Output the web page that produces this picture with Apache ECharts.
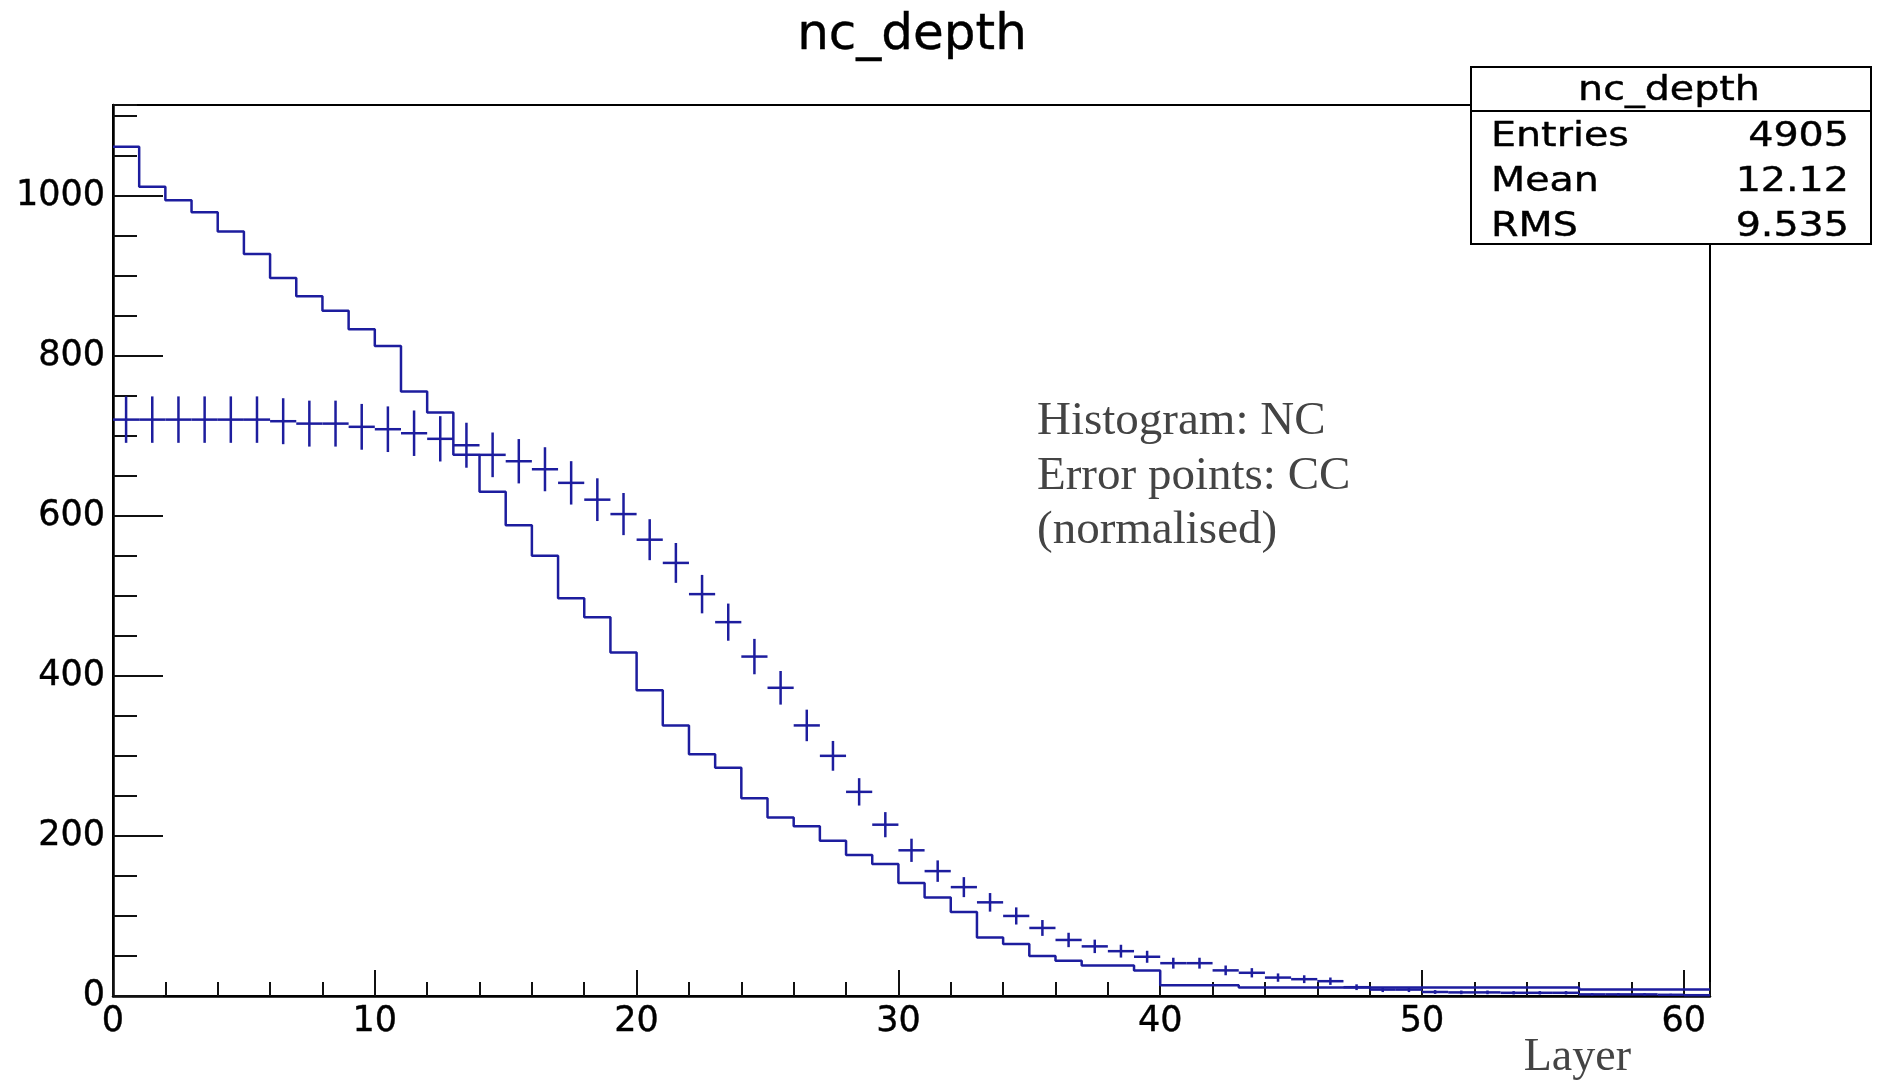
<!DOCTYPE html>
<html>
<head>
<meta charset="utf-8">
<title>nc_depth</title>
<script src="https://cdn.jsdelivr.net/npm/echarts@6/dist/echarts.min.js"></script>
<style>
    html, body { margin: 0; padding: 0; background: #fff; }
    #main { width: 1879px; height: 1082px; }
</style>
</head>
<body>
<div id="main"></div>
<script>
// NC histogram contents, one per layer bin (bin i covers [i, i+1])
var ncCounts = [1061, 1011, 994, 979, 955, 927, 897, 874, 856, 833,
    812, 755, 729, 676, 630, 588, 550, 497, 473, 429,
    382, 338, 302, 285, 247, 223, 212, 194, 176, 165,
    141, 123, 105, 73, 65, 50, 44, 38, 38, 32,
    13.5, 13.5, 13.5, 10.5, 10.5, 10.5, 10.5, 10.5, 10.5, 10.5,
    10.5, 10.5, 10.5, 10.5, 10.5, 10.5, 8, 8, 8, 8, 8];

// CC error points (normalised) and their errors
var ccValues = [720, 720, 720, 720, 720, 720, 718, 715, 715, 711,
    708, 703, 696, 688, 676, 668, 658, 641, 620, 602,
    570, 541, 502, 467, 424, 385, 338, 300, 255, 214,
    182, 156, 136, 117, 100, 85, 70, 62, 56, 49,
    41, 41, 32, 29, 23, 21, 18.5, 11, 8, 8,
    5, 4.5, 4.5, 4, 4, 4, 2, 2, 2, 1.5, 1];
var ccErrors = [29, 29, 29, 29, 29, 29, 28.7, 28.7, 28.7, 28.6,
    28.5, 28.4, 28.3, 28.1, 27.9, 27.7, 27.5, 27.1, 26.7, 26.3,
    25.6, 24.9, 24.0, 23.2, 22.1, 21.0, 19.7, 18.6, 17.1, 15.7,
    14.5, 13.4, 12.5, 11.6, 10.7, 9.9, 9.0, 8.4, 8.0, 7.5,
    6.8, 6.8, 6.1, 5.8, 5.2, 4.9, 4.6, 3.6, 3.1, 3.1,
    2.4, 2.3, 2.3, 2.1, 2.1, 2.1, 1.5, 1.5, 1.5, 1.3, 1.1];

var statNames = ['Entries', 'Mean', 'RMS'];
var statValues = ['4905', '12.12', '9.535'];
var noteLines = ['Histogram: NC', 'Error points: CC', '(normalised)'];

var xMax = 61;
var yMax = 1113;
var blue = '#1d1d9e';

var chart = echarts.init(document.getElementById('main'));

// step line data: left edge of every bin, plus the right edge of the last one
var ncLine = [];
for (var i = 0; i < ncCounts.length; i++) {
    ncLine.push([i, ncCounts[i]]);
}
ncLine.push([ncCounts.length, ncCounts[ncCounts.length - 1]]);

var ccData = [];
for (var j = 0; j < ccValues.length; j++) {
    ccData.push([j, ccValues[j], ccErrors[j]]);
}

// stats box + text notes
var statFont = { fontFamily: 'DejaVu Sans', fontSize: 33, fill: '#000', verticalAlign: 'middle', stroke: '#000', lineWidth: 0.4 };
var graphics = [];
var box = { x: 1471, y: 67, w: 400, h: 177 };
graphics.push({
    type: 'rect', z: 10,
    shape: { x: box.x, y: box.y, width: box.w, height: box.h },
    style: { fill: '#fff', stroke: '#000', lineWidth: 2 }
});
graphics.push({
    type: 'line', z: 11,
    shape: { x1: box.x, y1: 111, x2: box.x + box.w, y2: 111 },
    style: { stroke: '#000', lineWidth: 2 }
});
graphics.push({
    type: 'text', z: 12, x: 1669, y: 91, scaleX: 1.2,
    style: echarts.util.extend({ text: 'nc_depth', align: 'center' }, statFont)
});
for (var k = 0; k < statNames.length; k++) {
    var rowY = 137 + k * 45;
    graphics.push({
        type: 'text', z: 12, x: 1491, y: rowY, scaleX: 1.2,
        style: echarts.util.extend({ text: statNames[k], align: 'left' }, statFont)
    });
    graphics.push({
        type: 'text', z: 12, x: 1849, y: rowY, scaleX: 1.2,
        style: echarts.util.extend({ text: statValues[k], align: 'right' }, statFont)
    });
}
for (var n = 0; n < noteLines.length; n++) {
    graphics.push({
        type: 'text', z: 11, x: 1037, y: 422 + n * 54.5,
        style: { text: noteLines[n], fontFamily: 'Liberation Serif', fontSize: 47, fill: '#444', align: 'left', verticalAlign: 'middle' }
    });
}
// axis title
graphics.push({
    type: 'text', z: 11, x: 1631, y: 1058,
    style: { text: 'Layer', fontFamily: 'Liberation Serif', fontSize: 46, fill: '#444', align: 'right', verticalAlign: 'middle' }
});

var labelStyle = { color: '#000', fontFamily: 'DejaVu Sans', fontSize: 35, textBorderColor: '#000', textBorderWidth: 0.4 };
var plainNumber = function (value) { return String(value); };

var option = {
    backgroundColor: '#fff',
    animation: false,
    title: {
        text: 'nc_depth',
        left: 907,
        top: 6,
        textAlign: 'center',
        textStyle: { color: '#000', fontFamily: 'DejaVu Sans', fontSize: 50, fontWeight: 'normal', textBorderColor: '#000', textBorderWidth: 0.4 }
    },
    grid: {
        left: 113, right: 169, top: 105, bottom: 86,
        show: true, borderColor: '#000', borderWidth: 2,
        outerBoundsMode: 'none'
    },
    xAxis: [
        {
            type: 'value', min: 0, max: xMax, interval: 10,
            axisLine: { show: true, onZero: false, lineStyle: { color: '#000', width: 2.5 } },
            axisTick: { show: true, inside: true, length: 26, lineStyle: { color: '#111', width: 2 } },
            axisLabel: { show: true, margin: 8, showMaxLabel: false, formatter: plainNumber, textStyle: labelStyle },
            splitLine: { show: false }
        },
        {
            // minor ticks every 2 layers
            type: 'value', min: 0, max: xMax, interval: 2, position: 'bottom',
            axisLine: { show: false },
            axisTick: { show: true, inside: true, length: 14, lineStyle: { color: '#111', width: 2 } },
            axisLabel: { show: false },
            splitLine: { show: false }
        }
    ],
    yAxis: [
        {
            type: 'value', min: 0, max: yMax, interval: 200,
            axisLine: { show: true, onZero: false, lineStyle: { color: '#000', width: 2.5 } },
            axisTick: { show: true, inside: true, length: 50, lineStyle: { color: '#111', width: 2 } },
            axisLabel: { show: true, margin: 8, showMaxLabel: false, formatter: plainNumber, textStyle: labelStyle },
            splitLine: { show: false }
        },
        {
            // minor ticks every 50
            type: 'value', min: 0, max: yMax, interval: 50, position: 'left',
            axisLine: { show: false },
            axisTick: { show: true, inside: true, length: 24, lineStyle: { color: '#111', width: 2 } },
            axisLabel: { show: false },
            splitLine: { show: false }
        }
    ],
    series: [
        {
            name: 'NC',
            type: 'line',
            step: 'end',
            xAxisIndex: 0,
            yAxisIndex: 0,
            showSymbol: false,
            lineStyle: { color: blue, width: 2.5 },
            data: ncLine
        },
        {
            name: 'CC',
            type: 'custom',
            xAxisIndex: 0,
            yAxisIndex: 0,
            renderItem: function (params, api) {
                var b = api.value(0), v = api.value(1), e = api.value(2);
                var l = api.coord([b, v]);
                var r = api.coord([b + 1, v]);
                var t = api.coord([b + 0.5, v + e]);
                var d = api.coord([b + 0.5, Math.max(v - e, 0)]);
                return {
                    type: 'group',
                    children: [
                        { type: 'line', shape: { x1: l[0], y1: l[1], x2: r[0], y2: r[1] }, style: { stroke: blue, lineWidth: 2.5 } },
                        { type: 'line', shape: { x1: t[0], y1: t[1], x2: d[0], y2: d[1] }, style: { stroke: blue, lineWidth: 2.5 } }
                    ]
                };
            },
            data: ccData
        }
    ],
    graphic: graphics
};

chart.setOption(option);
</script>
</body>
</html>
